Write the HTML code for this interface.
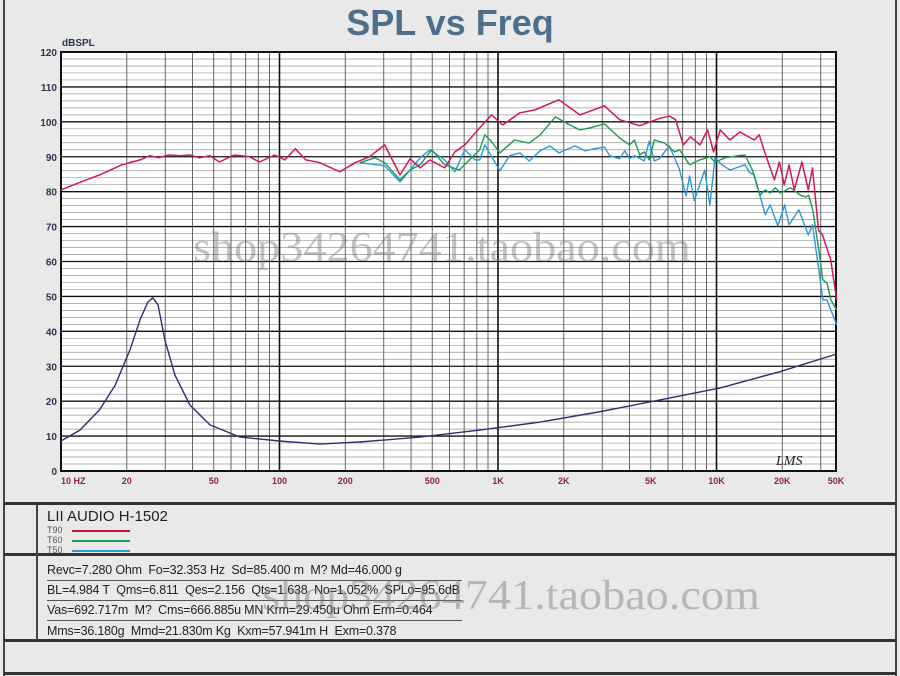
<!DOCTYPE html>
<html><head><meta charset="utf-8"><style>
body{margin:0;width:900px;height:676px;background:#e9e9e9;overflow:hidden;font-family:"Liberation Sans",sans-serif;position:relative}
.abs{position:absolute}
.hl{position:absolute;left:4px;width:892px;background:#333}
.param{position:absolute;left:47px;font:12.5px "Liberation Sans Narrow","Liberation Sans",sans-serif;color:#222;letter-spacing:-0.2px;white-space:nowrap}
.uline{position:absolute;left:47px;width:415px;height:1px;background:#555}
.wm{position:absolute;font:42px "Liberation Serif",serif;color:rgba(120,120,120,0.45);white-space:nowrap;transform:scaleX(1.1);transform-origin:left}
</style></head><body>
<div class="abs" style="left:3px;top:0;width:2px;height:676px;background:#444"></div>
<div class="abs" style="left:895px;top:0;width:2px;height:676px;background:#444"></div>
<div class="abs" style="left:0;width:900px;top:2px;text-align:center;font:bold 36px 'Liberation Sans',sans-serif;color:#4d6f8c">SPL vs Freq</div>
<svg class="abs" style="left:0;top:0" width="900" height="505">
<g id="grid"></g><g id="curves"></g><g id="labels"></g>
</svg>
<div class="wm" style="left:193px;top:224px">shop34264741.taobao.com</div>
<div class="hl" style="top:502px;height:3px"></div>
<div class="hl" style="top:553px;height:3px"></div>
<div class="hl" style="top:639px;height:3px"></div>
<div class="hl" style="top:672px;height:3px"></div>
<div class="abs" style="left:36px;top:505px;width:2px;height:135px;background:#444"></div>
<div class="abs" style="left:47px;top:508px;font:15px 'Liberation Sans Narrow','Liberation Sans',sans-serif;color:#222">LII AUDIO H-1502</div>
<div class="abs" style="left:47px;top:525px;font:9px 'Liberation Sans',sans-serif;color:#555">T90<span style="position:absolute;left:25px;top:5px;width:58px;height:2px;background:#c8103c"></span></div>
<div class="abs" style="left:47px;top:535px;font:9px 'Liberation Sans',sans-serif;color:#555">T60<span style="position:absolute;left:25px;top:5px;width:58px;height:2px;background:#1e9a55"></span></div>
<div class="abs" style="left:47px;top:545px;font:9px 'Liberation Sans',sans-serif;color:#555">T50<span style="position:absolute;left:25px;top:5px;width:58px;height:2px;background:#2a9ad8"></span></div>
<div class="param" style="top:563px">Revc=7.280 Ohm&nbsp; Fo=32.353 Hz&nbsp; Sd=85.400 m&nbsp; M? Md=46.000 g</div>
<div class="uline" style="top:580px"></div>
<div class="param" style="top:583px">BL=4.984 T&nbsp; Qms=6.811&nbsp; Qes=2.156&nbsp; Qts=1.638&nbsp; No=1.052%&nbsp; SPLo=95.6dB</div>
<div class="uline" style="top:600px"></div>
<div class="param" style="top:603px">Vas=692.717m&nbsp; M?&nbsp; Cms=666.885u MN Krm=29.450u Ohm Erm=0.464</div>
<div class="uline" style="top:620px"></div>
<div class="param" style="top:624px">Mms=36.180g&nbsp; Mmd=21.830m Kg&nbsp; Kxm=57.941m H&nbsp; Exm=0.378</div>
<div class="wm" style="left:262px;top:572px">shop34264741.taobao.com</div>
<script>
const yTicks=[0,10,20,30,40,50,60,70,80,90,100,110,120];
const xTickFreqs=[10,20,50,100,200,500,1000,2000,5000,10000,20000,35500];
const xTickLabels=["10  HZ","20","50","100","200","500","1K","2K","5K","10K","20K","50K"];
const t90Freq=[10,12,15,19,23,25.5,28,31,35,39,43,48,53,62,73,81,95,106,118,132,153,189,222,258,303,356,396,440,488,570,635,705,825,935,1050,1260,1470,1900,2370,3070,3600,4450,5500,6100,6500,7050,7600,8400,9100,9700,10400,11500,12800,14900,15700,16500,17400,18400,19400,20400,21500,22700,24600,26300,27500,29300,30600,31600,33300,35500];
const t90dB=[80.5,82.5,84.8,87.7,89.1,90.3,89.7,90.5,90.3,90.5,89.7,90.3,88.5,90.5,90,88.5,90.5,89.1,92.3,89.1,88.3,85.7,88.3,90,93.4,84.8,89.4,86.8,89.1,86.8,91.4,93.4,98.3,102,99.1,102.6,103.4,106.3,102,104.6,100.6,98.9,101,101.6,100.6,93.4,95.7,93.4,97.7,91.4,97.7,94.8,97.1,94.8,96.3,91.9,87.7,83.4,88.5,81.9,87.7,80.5,88.5,80.5,86.8,69,67.6,64.8,60.5,49];
const t60Freq=[233,273,303,356,396,440,497,570,665,740,825,870,935,1020,1190,1390,1560,1830,2130,2370,2640,3070,3600,4000,4210,4450,4670,4920,5190,5780,6430,6770,7530,8380,9330,9840,10950,12600,13500,14600,15800,16700,17600,18600,19600,21800,24200,25600,26400,27600,29400,30700,32000,33400,35500];
const t60dB=[88.3,89.7,88.3,83.4,86.2,87.7,92,87.7,86.2,89.1,92,96.3,94.3,91.1,94.8,93.9,96.3,101.4,99.1,97.7,98.3,99.4,95.4,93.4,94.8,90.5,91.4,89.1,94.8,93.9,91.4,92,87.7,89.1,90,88.5,89.7,90.3,90.5,86.2,79,80.5,79.6,81.1,79.6,81.1,79,78.5,79,74.8,63.3,54.7,53.9,49,46.1];
const t50Freq=[233,303,356,396,440,488,570,635,705,785,825,870,1020,1130,1260,1390,1560,1730,1900,2250,2500,2770,3070,3240,3600,3800,4000,4210,4670,4920,5190,5470,6090,6760,7260,7530,7910,8830,9330,9840,10570,11530,13500,14190,14900,16700,17600,19100,20500,21500,23800,26300,27500,29400,30700,32000,35500];
const t50dB=[88.3,87.4,82.8,86.2,89.7,92,89.1,85.7,92,89.1,89.1,93.4,86,90.3,91.1,88.8,91.7,93.1,91.1,93.1,91.7,92.3,92.8,90.3,89.4,91.7,89.4,90.3,88.8,94.5,88.8,89.4,93.1,86.5,78.8,84.5,77.4,86.2,76.2,89.7,87.7,86.2,87.7,85.4,84.8,73.4,76.2,70.2,76.2,70.5,74.8,67.6,70.5,57.6,49,49,41.8];
const impFreq=[10,12.2,15,17.7,20.7,23,25,26.3,27.8,29.9,33.2,38.9,48,66,100,153,233,440,825,1560,2880,5470,10400,19400,35500];
const impVal=[8.6,11.7,17.5,24.6,34.7,43.3,48.4,49.6,47.6,37.5,27.5,18.9,13.2,9.7,8.6,7.7,8.3,9.7,11.7,14,16.9,20.3,23.8,28.4,33.5];

const NS="http://www.w3.org/2000/svg";
const L=61,R=836,T=52,B=471;
function x(f){return L+218.5*Math.log10(f/10);}
function y(v){return B-(v/120)*(B-T);}
function mk(tag,attrs,parent){const e=document.createElementNS(NS,tag);for(const k in attrs)e.setAttribute(k,attrs[k]);parent.appendChild(e);return e;}
const grid=document.getElementById('grid'),curves=document.getElementById('curves'),labels=document.getElementById('labels');
const bg=mk('rect',{x:L,y:T,width:R-L,height:B-T,fill:'#fff'},grid);


for(let v=2;v<120;v+=2){if(v%10===0)continue;const ln=mk('line',{x1:L,x2:R,y1:y(v),y2:y(v),stroke:'#999','stroke-width':0.7},grid);

}
for(let d=10;d<=10000;d*=10){for(let m=1;m<10;m++){const f=d*m;const xx=x(f);if(xx>R)continue;const ln=mk('line',{x1:xx,x2:xx,y1:T,y2:B,stroke:m===1?'#111':'#555','stroke-width':m===1?1.6:0.9},grid);

}}
yTicks.forEach(v=>{const ln=mk('line',{x1:L,x2:R,y1:y(v),y2:y(v),stroke:'#111','stroke-width':1.3},grid);


const t=mk('text',{x:57,y:y(v)+4,'text-anchor':'end','font-size':10,'font-weight':'bold',fill:'#2b3550','font-family':'Liberation Sans, sans-serif'},labels);t.textContent=v;

});
const fr=mk('rect',{x:L,y:T,width:R-L,height:B-T,fill:'none',stroke:'#111','stroke-width':2},grid);


xTickFreqs.forEach((f,i)=>{const t=mk('text',{x:Math.min(x(f),R),y:484,'text-anchor':i===0?'start':'middle','font-size':9,'font-weight':'bold',fill:'#8b2348','font-family':'Liberation Sans, sans-serif'},labels);t.textContent=xTickLabels[i];t.setAttribute('xml:space','preserve');

});
const yl=mk('text',{x:62,y:46,'font-size':10,'font-weight':'bold',fill:'#2b3550','font-family':'Liberation Sans, sans-serif'},labels);yl.textContent='dBSPL';


const lms=mk('text',{x:776,y:465,'font-size':14,'font-style':'italic',fill:'#222','font-family':'Liberation Serif, serif'},labels);lms.textContent='LMS';


function line(fs,vs,color,name,w){const d=fs.map((f,i)=>(i?'L':'M')+x(f).toFixed(1)+','+y(vs[i]).toFixed(1)).join('');const p=mk('path',{d:d,fill:'none',stroke:color,'stroke-width':w,'stroke-linejoin':'round'},curves);

}
line(impFreq,impVal,'#2c2f6e','impedance-curve',1.4);
line(t50Freq,t50dB,'#2a9ad8','t50-curve',1.4);
line(t60Freq,t60dB,'#1e9a55','t60-curve',1.4);
line(t90Freq,t90dB,'#d0185a','t90-curve',1.5);
</script>
</body></html>
